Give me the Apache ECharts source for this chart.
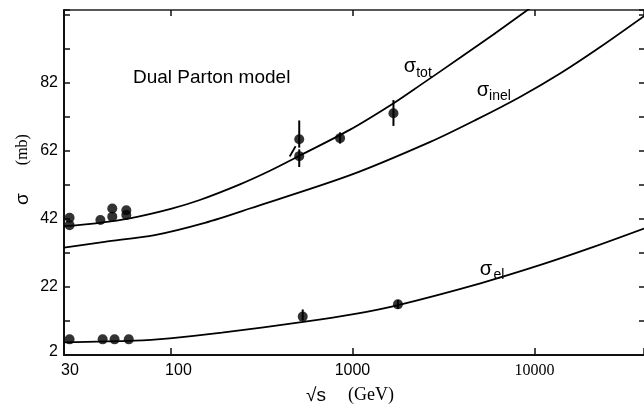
<!DOCTYPE html>
<html>
<head>
<meta charset="utf-8">
<script src="https://cdn.jsdelivr.net/npm/echarts@6/dist/echarts.min.js"></script>
<style>
  html, body { margin: 0; padding: 0; background: #fff; }
  #main { width: 644px; height: 417px; }
</style>
</head>
<body>
<div id="main"></div>
<script>
// model curves (sqrt(s) in GeV, sigma in mb)
var totE = [26, 40.8, 59.7, 100.4, 144.9, 240.8, 352, 515, 971, 1675, 2359, 3917, 5954, 9162, 12265];
var totV = [39.9, 40.9, 42.2, 45.0, 47.6, 52.2, 56.2, 60.7, 68.3, 76.0, 81.4, 89.5, 96.3, 103.5, 108.3];
var inelE = [26, 43.4, 82, 154.5, 273, 971, 2678, 4734, 8375, 13900, 23100, 40000];
var inelV = [33.6, 35.3, 37.3, 40.9, 45.1, 54.9, 64.7, 71.1, 78.0, 84.9, 92.7, 101.7];
var elE = [26, 63.6, 99.1, 191.7, 549, 1035, 1785, 5050, 10800, 20370, 40000];
var elV = [5.74, 6.2, 6.9, 8.56, 11.8, 14.1, 16.7, 23.1, 28.5, 33.5, 39.2];

// measured points
var totPtE = [27.9, 27.9, 41.2, 47.9, 47.9, 57.2, 57.2, 510, 510, 855, 1680];
var totPtV = [42.4, 40.2, 41.7, 45.1, 42.7, 44.6, 43.2, 65.5, 60.5, 65.8, 73.1];
var elPtE = [27.9, 42.4, 49.3, 59.0, 533, 1778];
var elPtV = [6.6, 6.6, 6.6, 6.6, 13.3, 16.9];

// error bars
var errE = [510, 510, 855, 1680, 533, 1778];
var errLo = [63.0, 57.3, 64.2, 69.4, 12.2, 15.6];
var errHi = [71.0, 62.5, 67.5, 77.0, 15.4, 18.2];

// little slash drawn next to the 546 GeV point
var slashE = [452, 487];
var slashV = [60.4, 63.4];

var xMin = 26, xMax = 40000;
var yMin = 2, yMax = 103.5;
var yLabels = [2, 22, 42, 62, 82];

function zip(a, b) {
    return a.map(function (v, i) { return [v, b[i]]; });
}

var myChart = echarts.init(document.getElementById('main'), null, { renderer: 'canvas' });

var sans = 'Liberation Sans, Arial, sans-serif';
var serif = 'Liberation Serif, Times New Roman, serif';

var option = {
    animation: false,
    backgroundColor: '#fff',
    grid: { left: 64, right: 0, top: 10, bottom: 62, outerBoundsMode: 'none' },
    xAxis: [{
        type: 'log',
        logBase: 10,
        min: xMin,
        max: xMax,
        position: 'bottom',
        axisLine: { lineStyle: { color: '#111', width: 2 } },
        axisTick: { inside: true, length: 7, lineStyle: { color: '#111', width: 1.5 } },
        splitLine: { show: false },
        axisLabel: {
            margin: 8,
            showMinLabel: true,
            showMaxLabel: true,
            formatter: function (v) {
                if (v < 50) return '{a|30}';
                if (v > 20000) return '';
                if (Math.abs(v - 100) < 1) return '{b|100}';
                if (Math.abs(v - 10000) < 1) return '{c|10000}';
                return '{n|' + Math.round(v) + '}';
            },
            rich: {
                a: { fontFamily: sans, fontSize: 16, color: '#000', padding: [0, 0, 0, 12] },
                b: { fontFamily: sans, fontSize: 16, color: '#000', padding: [0, 0, 0, 16] },
                n: { fontFamily: sans, fontSize: 16, color: '#000' },
                c: { fontFamily: serif, fontSize: 16, color: '#000' }
            }
        },
        name: '{r|√s}{g|(GeV)}',
        nameLocation: 'middle',
        nameGap: 31,
        nameTextStyle: {
            padding: [0, 8, 0, 0],
            rich: {
                r: { fontFamily: sans, fontSize: 19, color: '#000' },
                g: { fontFamily: serif, fontSize: 18, color: '#000', padding: [0, 0, 0, 22] }
            }
        }
    }, {
        type: 'log',
        logBase: 10,
        min: xMin,
        max: xMax,
        position: 'top',
        axisLine: { lineStyle: { color: '#222', width: 1.5 } },
        axisTick: { inside: true, length: 6, lineStyle: { color: '#111', width: 1.5 } },
        axisLabel: { show: false },
        splitLine: { show: false }
    }],
    yAxis: [{
        type: 'value',
        min: yMin,
        max: yMax,
        interval: 10,
        position: 'left',
        axisLine: { lineStyle: { color: '#111', width: 2 } },
        axisTick: { inside: true, length: 6, lineStyle: { color: '#111', width: 1.5 } },
        splitLine: { show: false },
        axisLabel: {
            margin: 6,
            formatter: function (v) {
                if (v === 2) return '{lo|2}';
                return yLabels.indexOf(v) >= 0 ? '{n|' + v + '}' : '';
            },
            rich: {
                n: { fontFamily: sans, fontSize: 16, color: '#000' },
                lo: { fontFamily: sans, fontSize: 16, color: '#000', padding: [0, 0, 6, 0] }
            }
        },
        name: '{s|σ}{m|(mb)}',
        nameLocation: 'middle',
        nameMoveOverlap: false,
        nameGap: 32,
        nameTextStyle: {
            padding: [0, 0, 0, 26],
            rich: {
                s: { fontFamily: sans, fontSize: 19, color: '#000' },
                m: { fontFamily: serif, fontSize: 16, color: '#000', padding: [0, 0, 0, 28] }
            }
        }
    }, {
        type: 'value',
        min: yMin,
        max: yMax,
        interval: 10,
        position: 'right',
        axisLine: { show: false },
        axisTick: { show: true, inside: true, length: 5, lineStyle: { color: '#111', width: 1.5 } },
        axisLabel: { show: false },
        splitLine: { show: false }
    }],
    graphic: [
        { type: 'text', left: 133, top: 68, style: { text: 'Dual Parton model', font: '19px ' + sans, fill: '#000' } },
        { type: 'text', x: 410, y: 66, style: { text: 'σ', font: '20px ' + sans, fill: '#000', align: 'center', verticalAlign: 'middle' } },
        { type: 'text', x: 424, y: 73, style: { text: 'tot', font: '14px ' + sans, fill: '#000', align: 'center', verticalAlign: 'middle' } },
        { type: 'text', x: 483, y: 90, style: { text: 'σ', font: '20px ' + sans, fill: '#000', align: 'center', verticalAlign: 'middle' } },
        { type: 'text', x: 500, y: 96, style: { text: 'inel', font: '14px ' + sans, fill: '#000', align: 'center', verticalAlign: 'middle' } },
        { type: 'text', x: 486, y: 269, style: { text: 'σ', font: '20px ' + sans, fill: '#000', align: 'center', verticalAlign: 'middle' } },
        { type: 'text', x: 499, y: 275, style: { text: 'el', font: '14px ' + sans, fill: '#000', align: 'center', verticalAlign: 'middle' } }
    ],
    series: [{
        name: 'tot',
        type: 'line',
        data: zip(totE, totV),
        smooth: 0.3,
        symbol: 'none',
        lineStyle: { color: '#000', width: 1.8 }
    }, {
        name: 'inel',
        type: 'line',
        data: zip(inelE, inelV),
        smooth: 0.3,
        symbol: 'none',
        lineStyle: { color: '#000', width: 1.8 }
    }, {
        name: 'el',
        type: 'line',
        data: zip(elE, elV),
        smooth: 0.3,
        symbol: 'none',
        lineStyle: { color: '#000', width: 1.8 }
    }, {
        name: 'slash',
        type: 'line',
        data: zip(slashE, slashV),
        symbol: 'none',
        lineStyle: { color: '#000', width: 1.8 }
    }, {
        name: 'errors',
        type: 'custom',
        data: errE.map(function (e, i) { return [e, errLo[i], errHi[i]]; }),
        encode: { x: 0, y: [1, 2] },
        renderItem: function (params, api) {
            var a = api.coord([api.value(0), api.value(1)]);
            var b = api.coord([api.value(0), api.value(2)]);
            return {
                type: 'line',
                shape: { x1: a[0], y1: a[1], x2: b[0], y2: b[1] },
                style: { stroke: '#000', lineWidth: 2 }
            };
        }
    }, {
        name: 'tot data',
        type: 'scatter',
        data: zip(totPtE, totPtV),
        symbol: 'circle',
        symbolSize: 10,
        itemStyle: { color: '#000' }
    }, {
        name: 'el data',
        type: 'scatter',
        data: zip(elPtE, elPtV),
        symbol: 'circle',
        symbolSize: 10,
        itemStyle: { color: '#000' }
    }]
};

myChart.setOption(option);
</script>
</body>
</html>
